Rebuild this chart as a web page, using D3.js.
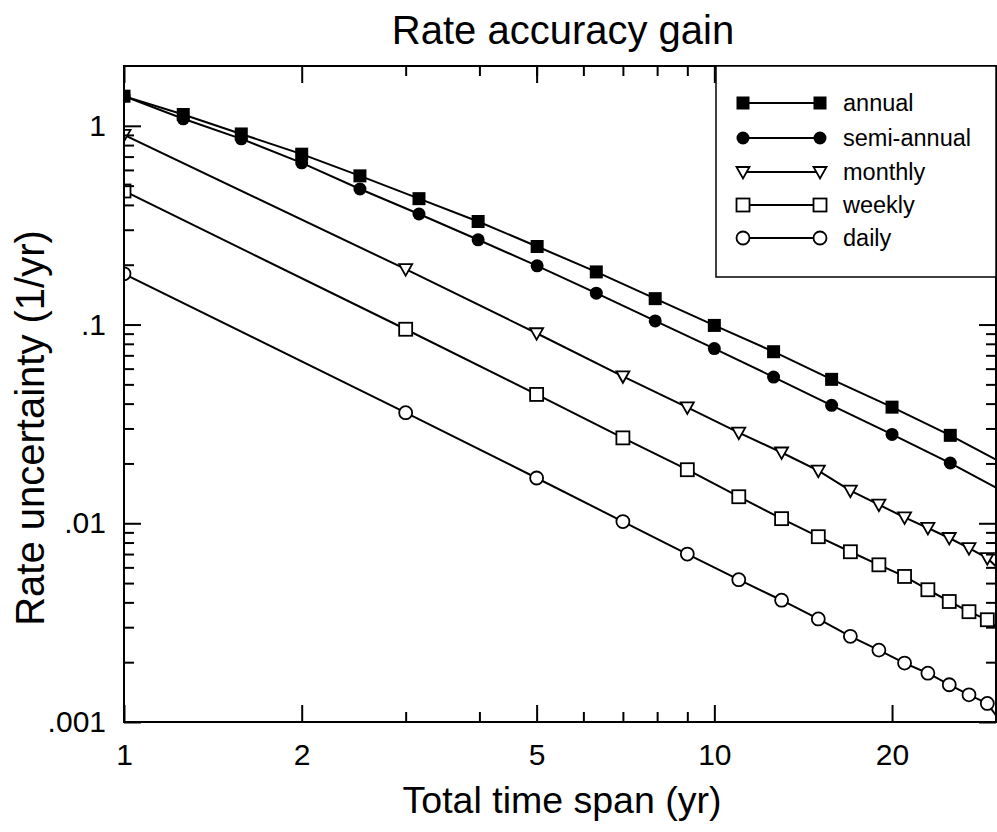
<!DOCTYPE html>
<html><head><meta charset="utf-8">
<script src="https://cdn.jsdelivr.net/npm/d3@7"></script>
<style>
body{margin:0;background:#fff}
svg{display:block}
text{font-family:"Liberation Sans",Arial,Helvetica,sans-serif;fill:#000}
</style>
</head><body>
<svg id="chart" width="997" height="832"></svg>
<script>
// ---- data ----
const seriesNames = ["annual", "semi-annual", "monthly", "weekly", "daily"];
const spanGeo = [1, 1.26, 1.58, 2, 2.51, 3.16, 3.98, 5.01, 6.31, 7.94, 10, 12.6, 15.8, 20, 25.1];
const spanOdd = [1, 3, 5, 7, 9, 11, 13, 15, 17, 19, 21, 23, 25, 27, 29];
const annual     = [1.41, 1.14, 0.91, 0.72, 0.56, 0.43, 0.33, 0.247, 0.184, 0.135, 0.099, 0.073, 0.053, 0.0384, 0.0277];
const semiAnnual = [1.41, 1.085, 0.86, 0.651, 0.481, 0.36, 0.267, 0.1975, 0.1438, 0.1043, 0.0757, 0.0544, 0.0392, 0.028, 0.0201];
const monthly    = [0.90, 0.190, 0.0904, 0.0549, 0.0383, 0.0286, 0.0227, 0.0184, 0.0146, 0.0124, 0.0107, 0.00947, 0.00843, 0.0075, 0.00668];
const weekly     = [0.47, 0.0947, 0.0445, 0.0269, 0.0186, 0.0136, 0.01055, 0.00856, 0.00719, 0.00618, 0.0054, 0.00463, 0.00404, 0.00359, 0.00327];
const daily      = [0.18, 0.036, 0.0169, 0.0102, 0.0070, 0.0052, 0.0041, 0.0033, 0.0027, 0.0023, 0.00198, 0.00176, 0.00154, 0.00137, 0.00124];
const lineEndSpan = 30;
const lineEndValues = [0.0209, 0.0151, 0.00606, 0.00302, 0.00108];

const xMajorTicks = [1, 2, 5, 10, 20];
const xMajorLabels = ["1", "2", "5", "10", "20"];
const xMinorTicks = [3, 4, 6, 7, 8, 9];
const yMajorTicks = [1, 0.1, 0.01, 0.001];
const yMajorLabels = ["1", ".1", ".01", ".001"];
const yMinorTicks = [0.9, 0.8, 0.7, 0.6, 0.5, 0.4, 0.3, 0.2,
  0.09, 0.08, 0.07, 0.06, 0.05, 0.04, 0.03, 0.02,
  0.009, 0.008, 0.007, 0.006, 0.005, 0.004, 0.003, 0.002];

const titleText = "Rate accuracy gain";
const xTitle = "Total time span (yr)";
const yTitle = "Rate uncertainty (1/yr)";

// ---- layout ----
const L = 124, R = 996, T = 66, B = 722;
const svg = d3.select("#chart");
const x = d3.scaleLog().domain([1, 30]).range([L, R]);
const y = d3.scaleLog().domain([0.001, 2]).range([B, T]);

const seriesX = [spanGeo, spanGeo, spanOdd, spanOdd, spanOdd];
const seriesY = [annual, semiAnnual, monthly, weekly, daily];
const shapes = ["fsquare", "fcircle", "triangle", "square", "circle"];

function drawMarker(g, shape, cx, cy) {
  const sw = 1.8;
  if (shape === "fsquare") {
    g.append("rect").attr("x", cx - 6.5).attr("y", cy - 6.5).attr("width", 13).attr("height", 13).attr("fill", "#000");
  } else if (shape === "fcircle") {
    g.append("circle").attr("cx", cx).attr("cy", cy).attr("r", 6.5).attr("fill", "#000");
  } else if (shape === "triangle") {
    g.append("path").attr("d", `M${cx - 6.5},${cy - 5}L${cx + 6.5},${cy - 5}L${cx},${cy + 6.5}Z`)
      .attr("fill", "#fff").attr("stroke", "#000").attr("stroke-width", sw);
  } else if (shape === "square") {
    g.append("rect").attr("x", cx - 6.5).attr("y", cy - 6.5).attr("width", 13).attr("height", 13)
      .attr("fill", "#fff").attr("stroke", "#000").attr("stroke-width", sw);
  } else {
    g.append("circle").attr("cx", cx).attr("cy", cy).attr("r", 6.5)
      .attr("fill", "#fff").attr("stroke", "#000").attr("stroke-width", sw);
  }
}

// clip
svg.append("defs").append("clipPath").attr("id", "plotclip")
  .append("rect").attr("x", L).attr("y", T).attr("width", R - L).attr("height", B - T);

const plot = svg.append("g").attr("clip-path", "url(#plotclip)");
const line = d3.line().x(d => x(d[0])).y(d => y(d[1]));

seriesY.forEach((vals, i) => {
  const pts = vals.map((v, j) => [seriesX[i][j], v]);
  pts.push([lineEndSpan, lineEndValues[i]]);
  plot.append("path").attr("d", line(pts)).attr("fill", "none")
    .attr("stroke", "#000").attr("stroke-width", 2);
});
seriesY.forEach((vals, i) => {
  const g = plot.append("g");
  vals.forEach((v, j) => drawMarker(g, shapes[i], x(seriesX[i][j]), y(v)));
});

// ---- axes (inward ticks on all four sides) ----
const axFont = 30;
function styleAxis(g) {
  g.select(".domain").remove();
  g.selectAll(".tick line").attr("stroke", "#000").attr("stroke-width", 2);
  g.selectAll(".tick text").attr("font-size", axFont).attr("font-family", "Liberation Sans, Arial, sans-serif").attr("fill", "#000");
}
svg.append("g").attr("transform", `translate(0,${B})`)
  .call(d3.axisBottom(x).tickValues(xMajorTicks).tickFormat((d, i) => xMajorLabels[i]).tickSize(-17).tickSizeOuter(0).tickPadding(22))
  .call(styleAxis);
svg.append("g").attr("transform", `translate(0,${B})`)
  .call(d3.axisBottom(x).tickValues(xMinorTicks).tickFormat("").tickSize(-10).tickSizeOuter(0))
  .call(styleAxis);
svg.append("g").attr("transform", `translate(0,${T})`)
  .call(d3.axisTop(x).tickValues(xMajorTicks).tickFormat("").tickSize(-17).tickSizeOuter(0))
  .call(styleAxis);
svg.append("g").attr("transform", `translate(0,${T})`)
  .call(d3.axisTop(x).tickValues(xMinorTicks.concat([5])).tickFormat("").tickSize(-10).tickSizeOuter(0))
  .call(styleAxis);
svg.append("g").attr("transform", `translate(${L},0)`)
  .call(d3.axisLeft(y).tickValues(yMajorTicks).tickFormat((d, i) => yMajorLabels[i]).tickSize(-17).tickSizeOuter(0).tickPadding(18))
  .call(styleAxis);
svg.append("g").attr("transform", `translate(${L},0)`)
  .call(d3.axisLeft(y).tickValues(yMinorTicks).tickFormat("").tickSize(-10).tickSizeOuter(0))
  .call(styleAxis);
svg.append("g").attr("transform", `translate(${R},0)`)
  .call(d3.axisRight(y).tickValues(yMajorTicks).tickFormat("").tickSize(-17).tickSizeOuter(0))
  .call(styleAxis);
svg.append("g").attr("transform", `translate(${R},0)`)
  .call(d3.axisRight(y).tickValues(yMinorTicks).tickFormat("").tickSize(-10).tickSizeOuter(0))
  .call(styleAxis);

// frame
svg.append("rect").attr("x", L).attr("y", T).attr("width", R - L).attr("height", B - T)
  .attr("fill", "none").attr("stroke", "#000").attr("stroke-width", 2);

// ---- legend ----
const lg = svg.append("g");
lg.append("rect").attr("x", 716).attr("y", T).attr("width", R - 716).attr("height", 211)
  .attr("fill", "#fff").attr("stroke", "#000").attr("stroke-width", 1.5);
const rowY = [103, 138, 172, 205, 238];
seriesNames.forEach((name, i) => {
  const yy = rowY[i];
  lg.append("line").attr("x1", 743).attr("x2", 820).attr("y1", yy).attr("y2", yy)
    .attr("stroke", "#000").attr("stroke-width", 1.8);
  drawMarker(lg, shapes[i], 743, yy);
  drawMarker(lg, shapes[i], 820, yy);
  lg.append("text").attr("x", 843).attr("y", yy).attr("dy", "0.36em")
    .attr("font-size", 23.5).text(name);
});

// ---- titles ----
svg.append("text").attr("x", 563).attr("y", 44).attr("text-anchor", "middle")
  .attr("font-size", 40).text(titleText);
svg.append("text").attr("x", 562).attr("y", 813).attr("text-anchor", "middle")
  .attr("font-size", 37.5).text(xTitle);
svg.append("text").attr("transform", "translate(44,428) rotate(-90)").attr("text-anchor", "middle")
  .attr("font-size", 40).text(yTitle);
</script>
</body></html>
